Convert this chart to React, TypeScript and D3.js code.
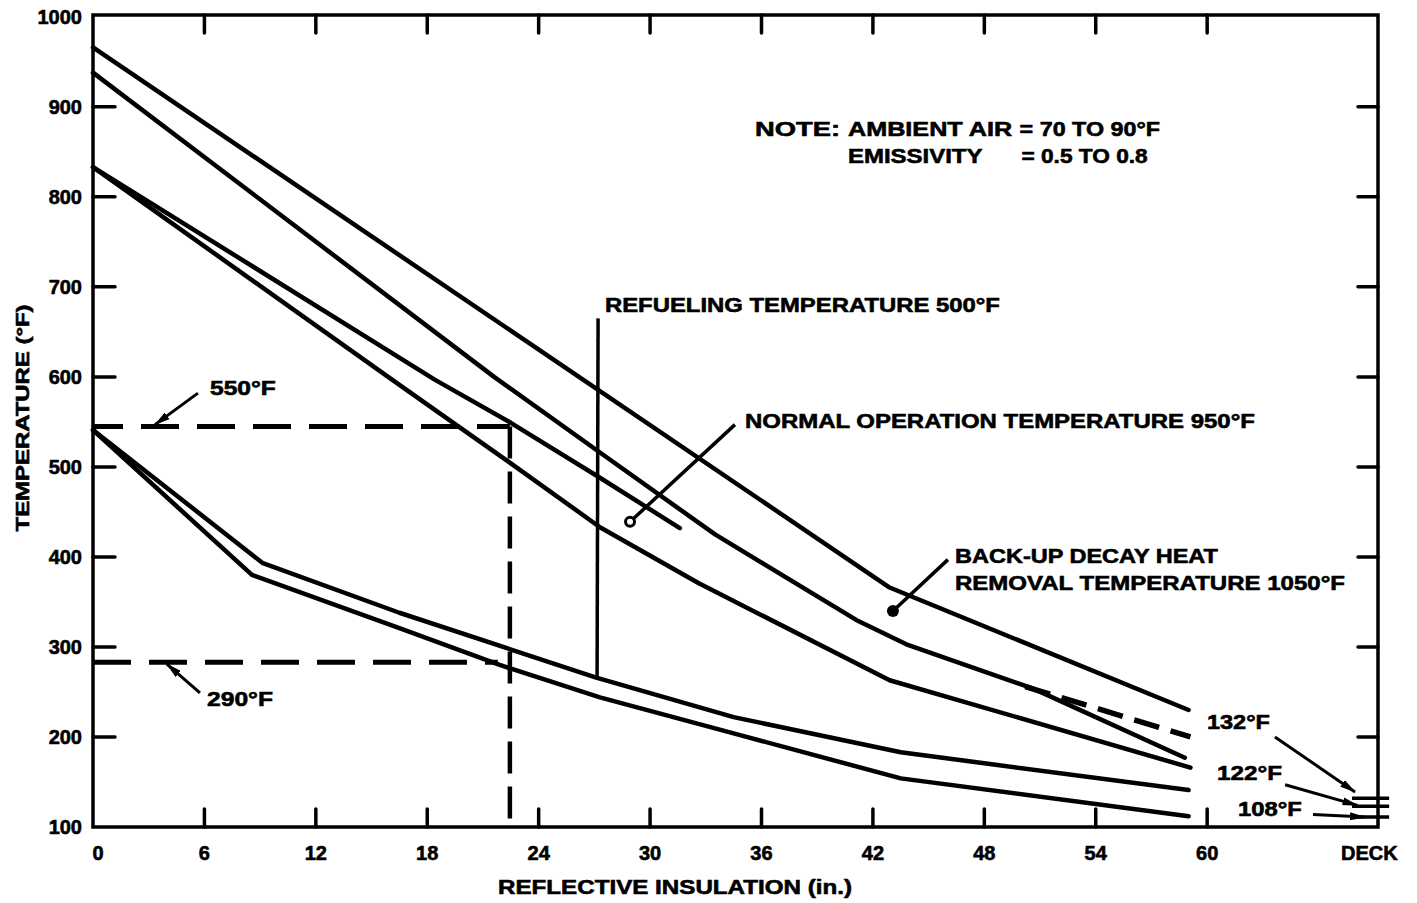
import React from "react";
import * as d3 from "d3";

type P = [number, number];

// ---------- axes ----------
const insulationTicks = [6, 12, 18, 24, 30, 36, 42, 48, 54, 60];
const insulationLabelValues = [0, 6, 12, 18, 24, 30, 36, 42, 48, 54, 60];
const deckPosition = 68.9;
const deckLabel = "DECK";
const temperatureTicks = [200, 300, 400, 500, 600, 700, 800, 900];
const temperatureLabels = [1000, 900, 800, 700, 600, 500, 400, 300, 200, 100];

// ---------- curves (inches, °F) ----------
const backupDecayCurve: P[] = [[0, 966], [42.9, 366], [59, 230]];
const secondCurve: P[] = [[0, 938], [21.6, 600], [27.3, 516], [33.5, 425], [41.1, 330], [43.8, 303], [50.6, 254], [58.8, 177]];
const secondCurveDashed: P[] = [[50.2, 256], [59.1, 200]];
const normalOpCurve: P[] = [[0, 833], [18.4, 597], [22.5, 549], [27.3, 488], [31.6, 432]];
const fourthCurve: P[] = [[0, 833], [16.1, 597], [22.5, 504], [27.3, 433], [32.6, 371], [42.9, 263], [59.1, 166]];
const refuelUpperCurve: P[] = [[0, 541], [9.15, 393], [16.5, 338], [27.1, 266], [34.5, 222], [43.5, 183], [59, 141]];
const refuelLowerCurve: P[] = [[0, 541], [8.56, 380], [16.5, 321], [21.9, 280], [27.3, 244], [34.5, 204], [43.5, 154], [59, 112]];

// deck temperatures
const deckValues = [132, 123, 111];
const deckLabels = ["132°F", "122°F", "108°F"];

// reference lines
const limitHigh = 545;
const limitLow = 283;
const limitLowEnd = 21.8;
const requiredThickness = 22.45;
const refuelingX = 27.2;
const refuelingTop = 665;
const refuelingBottom = 266;

// ---------- annotations (data space) ----------
type Txt = { t: string; x0: number; x1: number; v: number };
const texts: Txt[] = [
  { t: "NOTE:", x0: 35.65, x1: 40.23, v: 876 },
  { t: "AMBIENT AIR", x0: 40.66, x1: 49.5, v: 876 },
  { t: "= 70 TO 90°F", x0: 49.9, x1: 57.46, v: 876 },
  { t: "EMISSIVITY", x0: 40.66, x1: 47.9, v: 846 },
  { t: "= 0.5 TO 0.8", x0: 50.0, x1: 56.8, v: 846 },
  { t: "REFUELING TEMPERATURE 500°F", x0: 27.57, x1: 48.84, v: 680 },
  { t: "NORMAL OPERATION TEMPERATURE 950°F", x0: 35.11, x1: 62.57, v: 552 },
  { t: "BACK-UP DECAY HEAT", x0: 46.42, x1: 60.58, v: 402 },
  { t: "REMOVAL TEMPERATURE 1050°F", x0: 46.42, x1: 67.42, v: 372 },
  { t: "550°F", x0: 6.3, x1: 9.85, v: 588 },
  { t: "290°F", x0: 6.14, x1: 9.69, v: 243 },
];
const deckLabelPos: Txt[] = [
  { t: deckLabels[0], x0: 59.99, x1: 63.38, v: 217 },
  { t: deckLabels[1], x0: 60.53, x1: 64.03, v: 160 },
  { t: deckLabels[2], x0: 61.66, x1: 65.1, v: 121 },
];
const arrows: [P, P][] = [
  [[5.65, 582], [3.34, 547]],
  [[5.76, 249], [3.98, 281]],
  [[63.65, 200], [67.96, 139]],
  [[64.2, 147], [68.1, 124]],
  [[65.7, 114], [68.5, 111]],
];
const normalPointer: [P, P] = [[34.57, 547], [28.92, 439]];
const backupPointer: [P, P] = [[46.04, 397], [43.08, 340]];

const FONT = "'Liberation Sans', Arial, Helvetica, sans-serif";

export default function App() {
  const W = 1417;
  const H = 903;
  const x = d3.scaleLinear().domain([0, 69.2]).range([93, 1378]);
  const y = d3.scaleLinear().domain([100, 1002]).range([827, 15]);
  const line = d3.line<P>().x((d) => x(d[0])).y((d) => y(d[1]));

  const left = x(0), right = x(69.2), top = y(1002), bottom = y(100);
  const curveStyle = { fill: "none", stroke: "#000", strokeWidth: 4.5, strokeLinecap: "round" as const, strokeLinejoin: "round" as const };
  const heavy = { stroke: "#000", strokeWidth: 0.6, fontWeight: "bold" as const };

  return (
    <svg width={W} height={H} style={{ position: "absolute", left: 0, top: 0, background: "#fff" }} fontFamily={FONT}>
      <defs>
        <marker id="ah" viewBox="0 0 16 8" refX="15" refY="4" markerWidth="16" markerHeight="8" orient="auto" markerUnits="userSpaceOnUse">
          <path d="M0,0 L16,4 L0,8 Z" fill="#000" />
        </marker>
      </defs>
      <rect x={0} y={0} width={W} height={H} fill="#fff" />

      {/* frame */}
      <path d={`M${left},${top} H${right} V${bottom} H${left} Z`} fill="none" stroke="#000" strokeWidth={3.5} />

      {/* ticks */}
      {insulationTicks.map((t) => (
        <g key={"xt" + t}>
          <line x1={x(t)} x2={x(t)} y1={bottom} y2={bottom - 18} stroke="#000" strokeWidth={3.5} strokeLinecap="round" />
          <line x1={x(t)} x2={x(t)} y1={top} y2={top + 18} stroke="#000" strokeWidth={3.5} strokeLinecap="round" />
        </g>
      ))}
      {temperatureTicks.map((t) => (
        <g key={"yt" + t}>
          <line x1={left} x2={left + 22} y1={y(t)} y2={y(t)} stroke="#000" strokeWidth={3.5} strokeLinecap="round" />
          <line x1={right} x2={right - 20} y1={y(t)} y2={y(t)} stroke="#000" strokeWidth={3.5} strokeLinecap="round" />
        </g>
      ))}

      {/* tick labels */}
      {temperatureLabels.map((t) => (
        <text key={"yl" + t} x={82} y={y(t)} textAnchor="end" dominantBaseline="central" fontSize={20} {...heavy}>{t}</text>
      ))}
      {insulationLabelValues.map((t) => (
        <text key={"xl" + t} x={x(t) + (t === 0 ? 5 : 0)} y={853} textAnchor="middle" dominantBaseline="central" fontSize={20} {...heavy}>{t}</text>
      ))}
      <text x={x(deckPosition) - 3} y={853} textAnchor="middle" dominantBaseline="central" fontSize={20} {...heavy}>{deckLabel}</text>

      {/* axis titles */}
      <text x={675} y={887} textAnchor="middle" dominantBaseline="central" fontSize={20} {...heavy} textLength={354} lengthAdjust="spacingAndGlyphs">REFLECTIVE INSULATION (in.)</text>
      <text transform={`translate(22,418) rotate(-90)`} textAnchor="middle" dominantBaseline="central" fontSize={19} {...heavy} textLength={227} lengthAdjust="spacingAndGlyphs">TEMPERATURE (°F)</text>

      {/* reference dashed lines */}
      <line x1={left} x2={x(requiredThickness)} y1={y(limitHigh)} y2={y(limitHigh)} stroke="#000" strokeWidth={5} strokeDasharray="38 18" strokeDashoffset={-48} />
      <line x1={x(requiredThickness)} x2={x(requiredThickness)} y1={y(limitHigh)} y2={bottom} stroke="#000" strokeWidth={4.5} strokeDasharray="32 13" />
      <line x1={left} x2={x(limitLowEnd)} y1={y(limitLow)} y2={y(limitLow)} stroke="#000" strokeWidth={5} strokeDasharray="38 18" />

      {/* refueling vertical */}
      <line x1={x(refuelingX)} x2={x(refuelingX) - 1} y1={y(refuelingTop)} y2={y(refuelingBottom)} stroke="#000" strokeWidth={3.5} />

      {/* curves */}
      <path d={line(backupDecayCurve) || ""} {...curveStyle} />
      <path d={line(secondCurve) || ""} {...curveStyle} />
      <path d={line(secondCurveDashed) || ""} {...curveStyle} strokeWidth={5.5} strokeLinecap="butt" strokeDasharray="26 12" />
      <path d={line(normalOpCurve) || ""} {...curveStyle} />
      <path d={line(fourthCurve) || ""} {...curveStyle} />
      <path d={line(refuelUpperCurve) || ""} {...curveStyle} />
      <path d={line(refuelLowerCurve) || ""} {...curveStyle} />

      {/* deck marks */}
      {deckValues.map((v) => (
        <line key={"dk" + v} x1={x(deckPosition - 1.1)} x2={x(deckPosition + 0.9)} y1={y(v)} y2={y(v)} stroke="#000" strokeWidth={3.5} />
      ))}

      {/* arrows */}
      {arrows.map((a, i) => (
        <line key={"ar" + i} x1={x(a[0][0])} y1={y(a[0][1])} x2={x(a[1][0])} y2={y(a[1][1])} stroke="#000" strokeWidth={3} markerEnd="url(#ah)" />
      ))}

      {/* pointers */}
      <line x1={x(normalPointer[0][0])} y1={y(normalPointer[0][1])} x2={x(normalPointer[1][0])} y2={y(normalPointer[1][1])} stroke="#000" strokeWidth={3.5} />
      <circle cx={x(normalPointer[1][0])} cy={y(normalPointer[1][1])} r={4.5} fill="#fff" stroke="#000" strokeWidth={3} />
      <line x1={x(backupPointer[0][0])} y1={y(backupPointer[0][1])} x2={x(backupPointer[1][0])} y2={y(backupPointer[1][1])} stroke="#000" strokeWidth={3.5} />
      <circle cx={x(backupPointer[1][0])} cy={y(backupPointer[1][1])} r={6} fill="#000" />

      {/* annotation texts */}
      {texts.concat(deckLabelPos).map((d, i) => (
        <text key={"tx" + i} x={x(d.x0)} y={y(d.v)} dominantBaseline="central" fontSize={21} {...heavy}
          textLength={x(d.x1) - x(d.x0)} lengthAdjust="spacingAndGlyphs">{d.t}</text>
      ))}
    </svg>
  );
}
